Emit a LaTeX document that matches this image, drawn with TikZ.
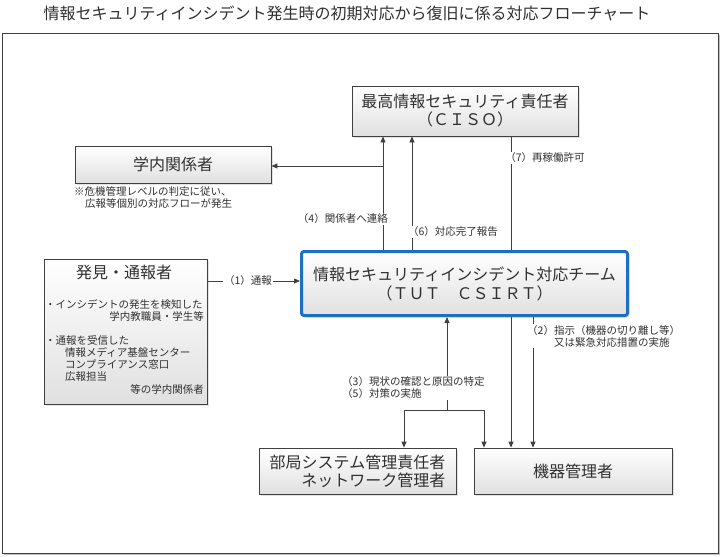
\documentclass[tikz,border=0pt]{standalone}
\usepackage{fontspec}
\setmainfont{Noto Sans CJK JP}
\usetikzlibrary{arrows.meta,shadows,calc}
\definecolor{ln}{HTML}{404040}
\definecolor{txt}{HTML}{303030}
\definecolor{csblue}{HTML}{1C6FC4}
\begin{document}
\begin{tikzpicture}[x=1pt,y=-1pt,
  box/.style={draw=ln, line width=0.8pt, top color=white, bottom color=black!12, inner sep=0pt, text=txt,
     drop shadow={shadow xshift=2pt, shadow yshift=-2pt, fill=black!25, opacity=0.45}},
  big/.style={font=\fontsize{16}{18}\selectfont},
  lab/.style={font=\fontsize{10.5}{12}\selectfont, text=txt, fill=white, inner sep=1pt},
  txtn/.style={font=\fontsize{10.5}{12}\selectfont, text=txt, inner sep=0pt},
  conn/.style={draw=ln, line width=0.8pt},
  arr/.style={conn, -{Triangle[length=6pt,width=5pt]}},
]
\useasboundingbox (0,0) rectangle (721,557);
\fill[white] (0,0) rectangle (721,557);
% title
\node[font=\fontsize{16}{18}\selectfont, text=txt, inner sep=0pt] (title) at (347,13) {情報セキュリティインシデント発生時の初期対応から復旧に係る対応フローチャート};
% frame
\draw[draw=ln, line width=0.8pt, fill=white, drop shadow={shadow xshift=1.5pt, shadow yshift=-1.5pt, fill=black!40, opacity=0.6}] (2,33) rectangle (718,553);

% boxes
\node[box, big, minimum width=226pt, minimum height=50pt, align=center] (ciso) at (465,111) {最高情報セキュリティ責任者\\（ＣＩＳＯ）};
\node[box, big, minimum width=196pt, minimum height=37pt] (gakunai) at (173,164.5) {学内関係者};
\node[box, big, draw=csblue, line width=3pt, rounded corners=2.5pt, minimum width=326pt, minimum height=64pt, align=center, font=\fontsize{16}{19}\selectfont] (csirt) at (464.5,283.5) {情報セキュリティインシデント対応チーム\\（ＴＵＴ　ＣＳＩＲＴ）};
\node[box, minimum width=163pt, minimum height=145pt] (hakken) at (125.5,331.5) {};
\node[box, big, minimum width=197pt, minimum height=46pt, align=right] (bukyoku) at (357.5,471) {部局システム管理責任者\\ネットワーク管理者};
\node[box, big, minimum width=198pt, minimum height=46pt] (kiki) at (573,471) {機器管理者};

% texts in 発見・通報者
\node[big, text=txt, inner sep=0pt] (hakkent) at (124,272) {発見・通報者};
\node[txtn, anchor=west] (h1) at (45,304) {・インシデントの発生を検知した};
\node[txtn, anchor=east] (h2) at (204,316) {学内教職員・学生等};
\node[txtn, anchor=west] (h3) at (45,340) {・通報を受信した};
\node[txtn, anchor=west] (h4) at (65,352) {情報メディア基盤センター};
\node[txtn, anchor=west] (h5) at (65,364) {コンプライアンス窓口};
\node[txtn, anchor=west] (h6) at (65,377) {広報担当};
\node[txtn, anchor=east] (h7) at (204,389) {等の学内関係者};

% note
\node[txtn, anchor=west] (note1) at (74,192) {※危機管理レベルの判定に従い、};
\node[txtn, anchor=west] (note2) at (85,204) {広報等個別の対応フローが発生};

% coordinates
\coordinate (y1) at (0,281);
\coordinate (x4) at (383,0);
\coordinate (j4) at (383,166);
\coordinate (x6) at (412,0);
\coordinate (x7) at (511,0);
\coordinate (x2) at (533,0);
\coordinate (j3) at (447,410);
\coordinate (b3) at (404,410);
\coordinate (k3) at (484,410);

% connectors
\draw[arr] (hakken.east |- y1) -- (csirt.west |- y1);
\draw[arr] (csirt.north -| x4) -- (ciso.south -| x4);
\draw[arr] (j4) -- (gakunai.east |- j4);
\draw[arr] (csirt.north -| x6) -- (ciso.south -| x6);
\draw[conn] (ciso.south -| x7) -- (csirt.north -| x7);
\draw[arr] (csirt.south -| x7) -- (kiki.north -| x7);
\draw[arr] (csirt.south -| x2) -- (kiki.north -| x2);
\draw[arr] (j3) -- (csirt.south -| j3);
\draw[arr] (j3) -- (b3) -- (bukyoku.north -| b3);
\draw[arr] (j3) -- (k3) -- (kiki.north -| k3);

% labels
\node[lab] (l1) at (248,281) {（1）通報};
\node[lab, anchor=east] (l4) at (389,219) {（4）関係者へ連絡};
\node[lab] (l6) at (453,232) {（6）対応完了報告};
\node[lab] (l7) at (545,158) {（7）再稼働許可};
\node[lab, anchor=north west, align=left] (l2) at (526,324) {（2）指示（機器の切り離し等）\\\phantom{（2）}又は緊急対応措置の実施};
\node[lab, anchor=west, align=left] (l3) at (341,388) {（3）現状の確認と原因の特定\\（5）対策の実施};
\end{tikzpicture}
\end{document}
